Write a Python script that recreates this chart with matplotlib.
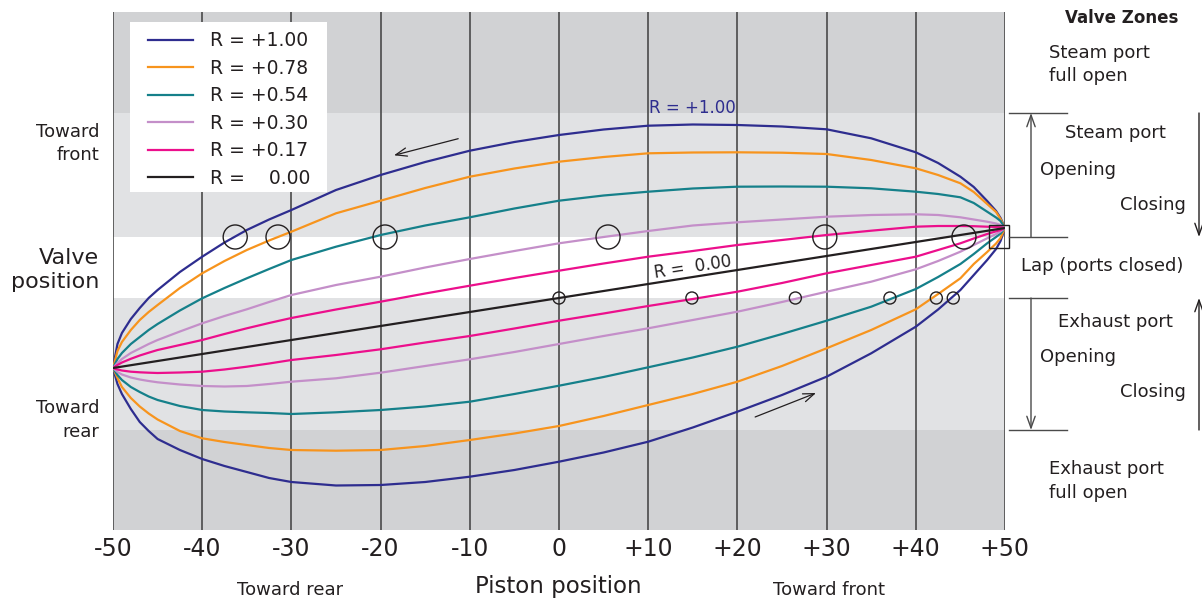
import matplotlib.pyplot as plt
from matplotlib.lines import Line2D
from matplotlib.patches import Rectangle, FancyArrowPatch

plt.rcParams['font.family'] = ['DejaVu Sans']

# piston position (% of stroke from mid)
piston = [-50, -49.5, -49, -48, -47, -46, -45, -42.5, -40, -37.5, -35, -32.5,
          -30, -25, -20, -15, -10, -5, 0, 5, 10, 15, 20, 25, 30, 35,
          40, 42.5, 45, 46.5, 48, 49, 49.5, 50]

# valve position, upper branch / lower branch of each loop
r100_up = [-97, -73, -62, -48, -37, -27, -19, -1, 14.3, 28.5, 41, 51.5,
           61, 81, 96, 109, 120.3, 129, 136, 141.5, 145.3, 146.5, 146, 144.5, 141.7, 132.7,
           118.7, 108, 94.3, 84, 70, 60, 53, 43]
r100_lo = [-97, -113, -123, -138, -151, -160, -168, -179, -188, -195, -201, -207,
           -211, -214.5, -214, -211, -205.7, -199, -190.7, -181.5, -170.7, -156.5, -140.7, -124, -105.7, -82.3,
           -55.7, -38.5, -19, -4, 11, 22, 30, 43]
r078_up = [-97, -80, -71, -59, -49, -41, -34, -17, -2.3, 10, 21, 30.5,
           39.3, 57.7, 70.3, 83, 94.3, 102.5, 109.3, 114, 117.7, 118.5, 118.7, 118.3, 117, 111,
           102.7, 96, 87.7, 79, 67, 59, 52, 43]
r078_lo = [-97, -107, -116, -127, -135.5, -142.5, -148.5, -160, -167.3, -171, -174, -177,
           -179, -179.7, -179, -175, -169, -162.5, -155, -145, -134, -123, -110.7, -95, -77.3, -59,
           -38.3, -23, -7.3, 7, 19, 27.5, 33, 43]
r054_up = [-97, -88, -82, -73, -66, -59, -53, -39.5, -27.3, -17, -7.3, 2,
           11, 24.3, 36, 45.5, 53.7, 62.5, 70.3, 75.5, 79.3, 82.5, 84.3, 84.5, 84.3, 82.7,
           79.3, 77, 73.7, 68, 59.3, 53.5, 50, 43]
r054_lo = [-97, -104, -109, -116, -121, -125.5, -129, -135, -139, -140.5, -141.3, -142,
           -143, -141.3, -139, -135.5, -130.7, -123, -114.7, -106, -96.3, -86.5, -75.7, -63, -49.7, -35.7,
           -18, -6, 7, 17, 27.7, 34, 37.5, 43]
r030_up = [-97, -92, -88, -82, -77.5, -73, -69, -60.5, -52.3, -45, -38.3, -31,
           -24, -14, -5.7, 3.5, 12, 20, 27.7, 34, 40, 45.5, 48.7, 51.5, 54.3, 56,
           56.7, 56, 53.7, 51.5, 49.3, 47.5, 46, 43]
r030_lo = [-97, -101, -103.5, -106.5, -108.5, -110, -111.3, -113.5, -115, -115.5, -115, -113,
           -110.7, -107.3, -101.7, -95, -88.3, -81, -73, -65, -57.3, -49, -40.7, -31, -20.7, -10.7,
           1.7, 10, 19.3, 26, 32.7, 37, 39.5, 43]
r017_up = [-97, -94, -91.5, -87.8, -84.5, -81.7, -79, -74, -69, -63, -57.3, -52,
           -47, -38.5, -30.7, -22.5, -14.7, -7, 0.3, 7.5, 14.3, 20, 26, 31, 36, 40.3,
           44.3, 45, 45, 44.8, 44.3, 44, 43.7, 43]
r017_lo = [-97, -98.5, -99.5, -100.7, -101.3, -101.7, -102, -101.5, -100.7, -98.5, -95.7, -92.5,
           -89, -84, -78.3, -71.5, -65, -57.5, -49.7, -42.5, -35, -28, -20.7, -12, -2.3, 6,
           14.3, 21, 27.7, 32.5, 37, 39.7, 41, 43]
r000_x = [-50, 50]
r000_y = [-97, 43]

labels = ['R = +1.00', 'R = +0.78', 'R = +0.54', 'R = +0.30', 'R = +0.17', 'R =    0.00']
colors = ['#2e2d8f', '#f7941d', '#15808a', '#c48fc9', '#ec0f8c', '#231f20']

# valve zone boundaries
zone_edges = [-259, -159, -27, 34, 158, 259]
zone_cols = ['#d1d2d4', '#e1e2e4', '#ffffff', '#e1e2e4', '#d1d2d4']
steam_lap = 34
exhaust_lap = -27

# admission / release points
admit_x = [-36.3, -31.5, -19.5, 5.5, 29.8, 45.4]
release_x = [0, 14.9, 26.5, 37.1, 42.3, 44.2]

xticks = [-50, -40, -30, -20, -10, 0, 10, 20, 30, 40, 50]
xticklabels = ['-50', '-40', '-30', '-20', '-10', '0', '+10', '+20', '+30', '+40', '+50']

fig = plt.figure(figsize=(12.02, 6.0), dpi=100)
ax = fig.add_axes([113/1202, 70/600, 892/1202, 518/600])

for i in range(len(zone_cols)):
    ax.axhspan(zone_edges[i], zone_edges[i+1], color=zone_cols[i], lw=0, zorder=0)
for xt in xticks:
    ax.axvline(xt, color='#4a4a4a', lw=1.2, zorder=1)

loops = [(r100_up, r100_lo), (r078_up, r078_lo), (r054_up, r054_lo),
         (r030_up, r030_lo), (r017_up, r017_lo)]
for (up, lo), c, lab in zip(loops, colors, labels):
    ax.plot(piston + piston[::-1], up + lo[::-1], color=c, lw=1.6, label=lab,
            solid_joinstyle='round', zorder=3)
ax.plot(r000_x, r000_y, color=colors[5], lw=1.6, label=labels[5], zorder=3)

ax.scatter(admit_x, [steam_lap]*len(admit_x), s=300, facecolors='none',
           edgecolors='#231f20', lw=1.0, zorder=4)
ax.scatter(release_x, [exhaust_lap]*len(release_x), s=75, facecolors='none',
           edgecolors='#231f20', lw=1.0, zorder=4)
ax.add_patch(Rectangle((48.2, 23), 2.2, 23, fill=False, ec='#231f20', lw=1.0,
                       clip_on=False, zorder=4))

ax.text(15, 163, 'R = +1.00', color=colors[0], fontsize=12, ha='center', va='center')
ax.text(15, 4, 'R =  0.00', color='#231f20', fontsize=12, ha='center', va='center',
        rotation=8.7)
ax.annotate('', xy=(-18.8, 115), xytext=(-11.0, 133),
            arrowprops=dict(arrowstyle='->,head_length=0.8,head_width=0.3', color='#231f20', lw=0.9))
ax.annotate('', xy=(29.1, -121), xytext=(21.7, -147),
            arrowprops=dict(arrowstyle='->,head_length=0.8,head_width=0.3', color='#231f20', lw=0.9))

ax.set_xlim(-50, 50)
ax.set_ylim(-259, 259)
ax.set_yticks([])
ax.set_xticks(xticks)
ax.set_xticklabels(xticklabels, fontsize=17, color='#231f20')
ax.tick_params(axis='x', length=0, pad=5)
for s in ax.spines.values():
    s.set_visible(False)

# legend box
ax.add_patch(Rectangle(((130-113)/892, (530-192)/518), 197/892, 170/518,
                       transform=ax.transAxes, color='white', lw=0, zorder=4.5))
leg = ax.legend(loc='upper left', bbox_to_anchor=((148-113)/892, (530-31.5)/518),
                fontsize=13.5, frameon=False, handlelength=2.4, handletextpad=0.9,
                labelspacing=0.45, borderpad=0, borderaxespad=0)
leg.set_zorder(5)
for t in leg.get_texts():
    t.set_color('#231f20')


def fp(x, y):
    return (x/1202, 1 - y/600)


def ftext(x, y, s, ha='left', size=13, **kw):
    fig.text(*fp(x, y), s, ha=ha, va='center', fontsize=size, color='#231f20', **kw)


# left labels
ftext(99, 132, 'Toward', 'right', 13)
ftext(99, 155, 'front', 'right', 13)
ftext(99, 258, 'Valve', 'right', 16)
ftext(99, 282, 'position', 'right', 16)
ftext(99, 408, 'Toward', 'right', 13)
ftext(99, 432, 'rear', 'right', 13)

# bottom labels
ftext(558, 587, 'Piston position', 'center', 16.5)
ftext(290, 590, 'Toward rear', 'center', 13)
ftext(829, 590, 'Toward front', 'center', 13)

# right side zones
ftext(1122, 18, 'Valve Zones', 'center', 12, fontweight='bold')
ftext(1049, 53, 'Steam port')
ftext(1049, 76, 'full open')
ftext(1065, 133, 'Steam port')
ftext(1040, 170, 'Opening')
ftext(1120, 205, 'Closing')
ftext(1021, 266, 'Lap (ports closed)')
ftext(1058, 322, 'Exhaust port')
ftext(1040, 357, 'Opening')
ftext(1120, 392, 'Closing')
ftext(1049, 469, 'Exhaust port')
ftext(1049, 493, 'full open')

for yy in [113, 237, 298, 430]:
    fig.add_artist(Line2D([1009/1202, 1067/1202], [1 - yy/600]*2,
                          transform=fig.transFigure, color='#4a4a4a', lw=1.0))

for (x0, y0, x1, y1, c) in [(1031, 237, 1031, 113, '#4a4a4a'), (1031, 298, 1031, 430, '#4a4a4a'),
                            (1199, 113, 1199, 237, '#231f20'), (1199, 430, 1199, 298, '#231f20')]:
    fig.add_artist(FancyArrowPatch(fp(x0, y0), fp(x1, y1), transform=fig.transFigure,
                                   arrowstyle='->,head_length=0.7,head_width=0.25',
                                   color=c, lw=1.0, shrinkA=0, shrinkB=0, mutation_scale=12))

fig.savefig('out.png', dpi=100)
